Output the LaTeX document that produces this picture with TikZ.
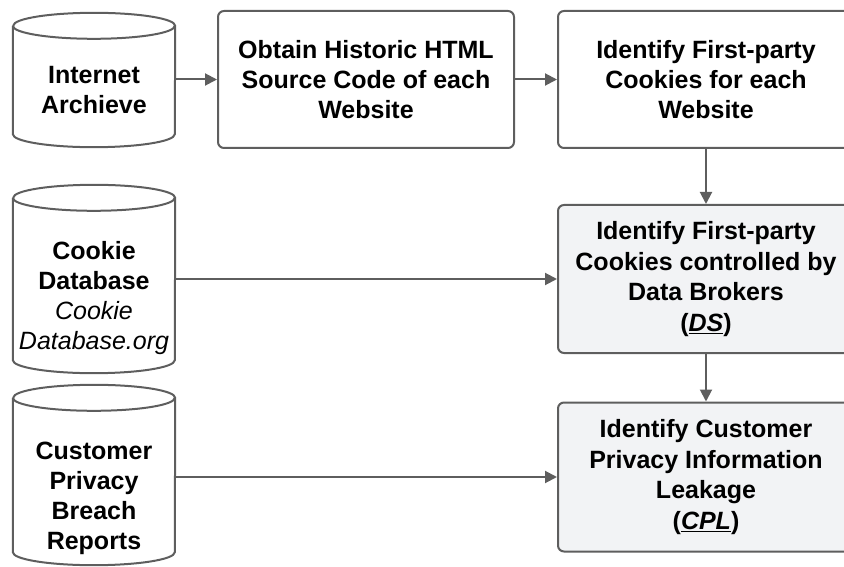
\documentclass[tikz,border=0pt]{standalone}
\usepackage{fontspec}
\setmainfont{Liberation Sans}
\usetikzlibrary{arrows.meta, positioning}

\definecolor{edgegray}{HTML}{5E5E5E}
\definecolor{keyfill}{HTML}{F2F3F5}

\begin{document}
\begin{tikzpicture}[x=1pt, y=1pt, on grid,
    font=\fontsize{25}{30}\selectfont\bfseries,
    stepbox/.style={draw=edgegray, line width=2pt, rounded corners=6pt,
        align=center, minimum width=296pt, inner sep=0pt, fill=white},
    keybox/.style={stepbox, fill=keyfill, font=\fontsize{25}{30.7}\selectfont\bfseries},
    source/.style={minimum width=162pt, inner sep=0pt},
    sourcetext/.style={align=center, inner sep=0pt},
    dbline/.style={draw=edgegray, line width=2pt},
    flow/.style={draw=edgegray, line width=2pt,
        -{Triangle[length=12pt, width=12pt]}}]
    \useasboundingbox (0,0) rectangle (844,-567);

    % Sources
    \node[source, minimum height=134pt] (arch) at (94,-80) {};
    \node[source, minimum height=188pt] (cookie) at (94,-279) {};
    \node[source, minimum height=180pt] (breach) at (94,-475) {};

    % Cylinder outlines round the sources
    \foreach \db in {arch, cookie, breach} {
        \draw[dbline] ([yshift=-13pt]\db.north west) -- ([yshift=13pt]\db.south west)
            arc[start angle=180, end angle=360, x radius=81pt, y radius=13pt]
            -- ([yshift=-13pt]\db.north east)
            arc[start angle=0, end angle=180, x radius=81pt, y radius=13pt];
        \draw[dbline] ([yshift=-13pt]\db.north west)
            arc[start angle=180, end angle=360, x radius=81pt, y radius=13pt];
    }

    \node[sourcetext] (arch-name) [below=10pt of arch] {Internet\\Archieve};
    \node[sourcetext] (cookie-name) [below=19.5pt of cookie]
        {Cookie\\Database\\\normalfont\itshape Cookie\\\normalfont\itshape Database.org};
    \node[sourcetext] (breach-name) [below=23.5pt of breach]
        {Customer\\Privacy\\Breach\\Reports};

    % Steps
    \node[stepbox, minimum height=137pt] (html) at (366,-79.5)
        {Obtain Historic HTML\\Source Code of each\\Website};
    \node[stepbox, minimum height=137pt] (fpc) [right=340pt of html]
        {Identify First-party\\Cookies for each\\Website};
    \node[keybox, minimum height=148pt] (ds) [below=199.5pt of fpc]
        {Identify First-party\\Cookies controlled by\\Data Brokers\\(\smash{\underline{\itshape DS}})};
    \node[keybox, minimum height=149pt] (cpl) [below=198pt of ds]
        {Identify Customer\\Privacy Information\\Leakage\\(\smash{\underline{\itshape CPL}})};

    % Flow
    \draw[flow] (arch.east |- html) -- (html);
    \draw[flow] (html) -- (fpc);
    \draw[flow] (fpc) -- (ds);
    \draw[flow] (ds) -- (cpl);
    \draw[flow] (cookie.east |- ds) -- (ds);
    \draw[flow] (breach.east |- cpl) -- (cpl);
\end{tikzpicture}
\end{document}
